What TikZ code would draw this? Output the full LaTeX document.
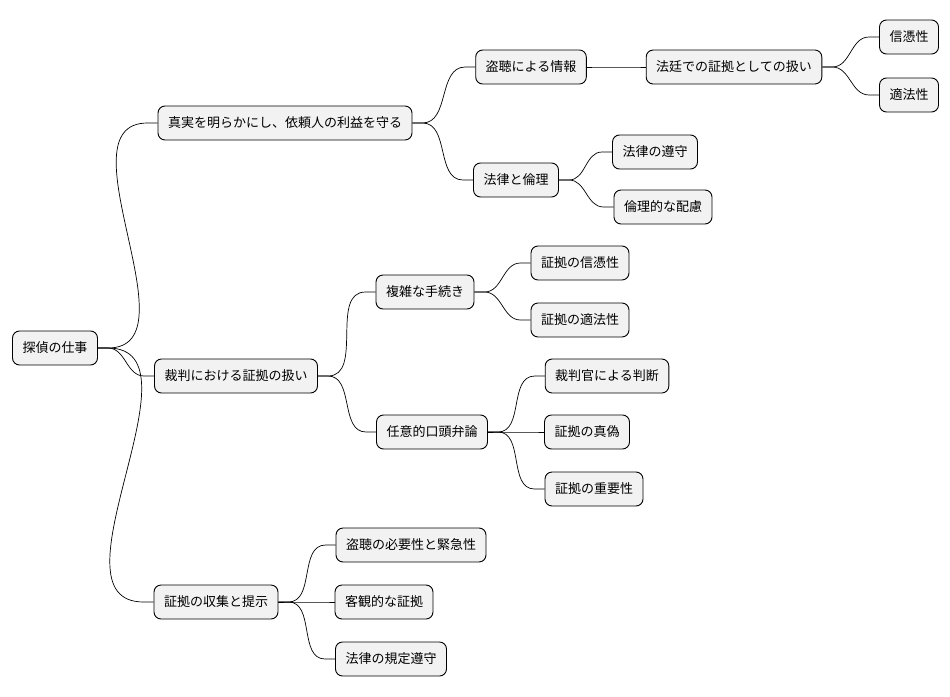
\documentclass[tikz,border=0pt]{standalone}
\usepackage{fontspec}
\setmainfont{Noto Sans CJK JP}
\begin{document}
\begin{tikzpicture}[
    x=1pt, y=-1pt,
    every node/.style={rectangle, rounded corners=7pt, draw, fill=gray!10, line width=0.9pt, minimum height=34pt, inner xsep=10pt, font=\fontsize{13}{15}\selectfont},
    link/.style={line width=0.7pt}
]
\useasboundingbox (0,0) rectangle (950,696);
\node (root) at (55,348) {探偵の仕事};
\node (truth) at (285,123) {真実を明らかにし、依頼人の利益を守る};
\node (tap) at (531,67) {盗聴による情報};
\node (court) at (734,67) {法廷での証拠としての扱い};
\node (cred) at (909,37) {信憑性};
\node (legal) at (909,95) {適法性};
\node (law) at (516,180) {法律と倫理};
\node (obey) at (655,152) {法律の遵守};
\node (ethic) at (663,207) {倫理的な配慮};
\node (trial) at (236,376) {裁判における証拠の扱い};
\node (proc) at (425,292) {複雑な手続き};
\node (ecred) at (580,263) {証拠の信憑性};
\node (elegal) at (580,320) {証拠の適法性};
\node (oral) at (432,432) {任意的口頭弁論};
\node (judge) at (607,376) {裁判官による判断};
\node (true) at (587,432) {証拠の真偽};
\node (imp) at (594,489) {証拠の重要性};
\node (coll) at (216,602) {証拠の収集と提示};
\node (need) at (411,545) {盗聴の必要性と緊急性};
\node (obj) at (384,602) {客観的な証拠};
\node (rule) at (391,659) {法律の規定遵守};
% connectors
\foreach \p/\c in {root/truth, root/trial, root/coll,
    truth/tap, truth/law, tap/court, court/cred, court/legal,
    law/obey, law/ethic, trial/proc, trial/oral,
    proc/ecred, proc/elegal, oral/judge, oral/true, oral/imp,
    coll/need, coll/obj, coll/rule}
  \draw[link] (\p.east) -- ++(10,0) to[out=0, in=180] ([xshift=-10pt]\c.west) -- (\c.west);
\end{tikzpicture}
\end{document}
